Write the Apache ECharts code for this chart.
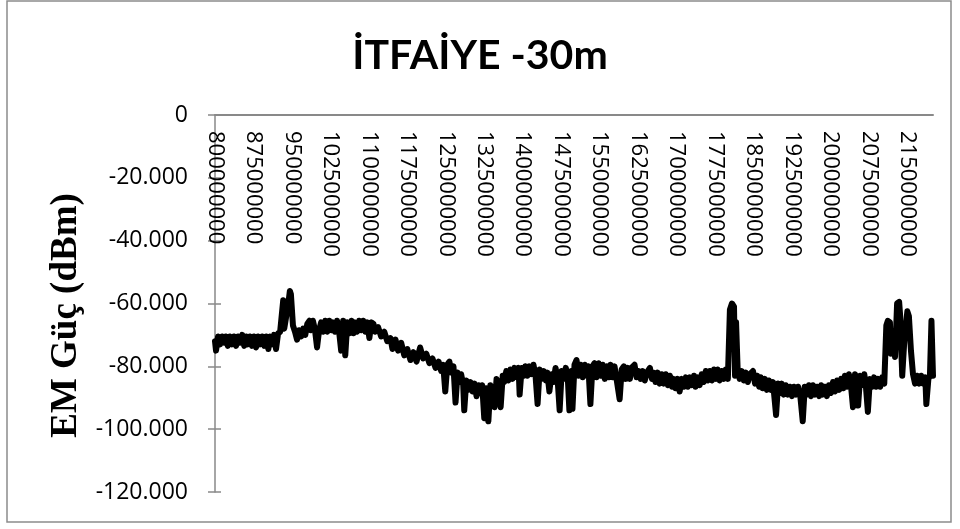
<!DOCTYPE html>
<html>
<head>
<meta charset="utf-8">
<title>İTFAİYE -30m</title>
<script src="https://cdn.jsdelivr.net/npm/echarts@6/dist/echarts.min.js"></script>
<style>
  html, body { margin: 0; padding: 0; background: #fff; }
  #chart { width: 960px; height: 529px; }
</style>
</head>
<body>
<div id="chart"></div>
<script>
// Measured spectrum: frequency in MHz and received power in dBm
const freqMHz = [
  800, 802, 806, 810, 814, 818, 821, 825, 829, 833, 837, 841, 845, 849, 853, 857, 861, 864, 868, 872,
  876, 880, 884, 888, 892, 896, 900, 904, 907, 911, 915, 919, 923, 927, 933, 935, 939, 943, 946, 948,
  952, 956, 960, 964, 968, 972, 976, 980, 984, 987, 991, 995, 999, 1003, 1007, 1011, 1015, 1019, 1023, 1027,
  1030, 1034, 1038, 1042, 1046, 1050, 1054, 1058, 1062, 1066, 1070, 1073, 1077, 1081, 1085, 1089, 1093, 1097, 1101, 1105,
  1109, 1112, 1118, 1124, 1130, 1136, 1142, 1146, 1152, 1157, 1163, 1169, 1175, 1181, 1187, 1193, 1196, 1200, 1206, 1212,
  1218, 1224, 1230, 1236, 1241, 1245, 1249, 1253, 1257, 1261, 1265, 1269, 1273, 1277, 1280, 1284, 1286, 1290, 1294, 1298,
  1302, 1306, 1310, 1314, 1318, 1321, 1325, 1329, 1333, 1337, 1341, 1345, 1349, 1353, 1357, 1361, 1364, 1368, 1372, 1376,
  1380, 1384, 1388, 1392, 1394, 1398, 1402, 1405, 1409, 1413, 1417, 1421, 1425, 1429, 1433, 1437, 1441, 1445, 1448, 1452,
  1456, 1460, 1464, 1468, 1472, 1476, 1480, 1484, 1488, 1491, 1495, 1497, 1501, 1505, 1509, 1513, 1517, 1521, 1525, 1528,
  1532, 1536, 1540, 1544, 1548, 1552, 1556, 1560, 1564, 1568, 1571, 1575, 1579, 1583, 1589, 1593, 1597, 1601, 1605, 1609,
  1612, 1618, 1622, 1626, 1630, 1634, 1638, 1642, 1648, 1652, 1655, 1659, 1663, 1667, 1671, 1675, 1679, 1683, 1687, 1691,
  1694, 1698, 1702, 1706, 1710, 1714, 1718, 1722, 1726, 1730, 1734, 1737, 1741, 1745, 1749, 1753, 1757, 1761, 1765, 1769,
  1773, 1777, 1780, 1784, 1788, 1792, 1796, 1800, 1804, 1808, 1812, 1814, 1816, 1819, 1823, 1827, 1831, 1835, 1839, 1843,
  1849, 1853, 1857, 1861, 1864, 1868, 1872, 1876, 1880, 1884, 1888, 1894, 1898, 1902, 1905, 1909, 1913, 1917, 1921, 1925,
  1929, 1933, 1937, 1941, 1946, 1950, 1954, 1958, 1962, 1966, 1970, 1974, 1978, 1982, 1985, 1989, 1993, 1997, 2001, 2005,
  2009, 2013, 2017, 2021, 2025, 2028, 2032, 2036, 2040, 2044, 2048, 2052, 2054, 2058, 2062, 2066, 2069, 2073, 2077, 2081,
  2085, 2089, 2093, 2097, 2101, 2105, 2109, 2112, 2116, 2118, 2122, 2126, 2130, 2134, 2136, 2140, 2144, 2150, 2153, 2157,
  2161, 2165, 2169, 2173, 2177, 2181, 2185, 2187, 2191, 2194, 2197, 2200
];

const powerDbm = [
  -72, -75, -70.5, -73, -70.5, -72.5, -70.5, -73.5, -70.5, -73, -70.5, -73.5, -70.5, -72.5, -70, -73.5, -70.5, -73, -70.5, -73.5,
  -70.5, -74, -70.5, -73, -70.5, -73.5, -70.5, -74.5, -70.5, -73, -70, -74.5, -69.5, -69, -59, -68, -64, -60, -56, -57,
  -67, -69, -71.5, -68.5, -70.5, -68, -70, -66.5, -65.5, -68.5, -65.5, -68.5, -74, -68.5, -66, -69, -65.5, -69, -65.5, -68.5,
  -66, -69, -65.5, -69, -75, -65.5, -76.5, -66, -69.5, -65.5, -69.5, -66, -69, -65.5, -68.5, -65.5, -69, -66, -71, -66,
  -66.5, -69, -67.5, -70.5, -69, -72, -71, -74.5, -71.5, -75, -72.5, -76.5, -74.5, -78, -75.5, -78.5, -76.5, -74, -77.5, -76,
  -79, -77.5, -80.5, -78.5, -81.5, -79.5, -88, -79.5, -78.5, -82, -80, -91.5, -82, -85, -82.5, -86, -94, -84.5, -87.5, -85,
  -88, -85.5, -89.5, -86, -88.5, -86, -96.5, -87, -97.5, -86, -88.5, -93, -84, -86.5, -93, -83, -85, -81.5, -84.5, -81,
  -84, -80.5, -83.5, -80.5, -89, -80.5, -83, -80, -83, -80, -82.5, -79.5, -83, -92, -81, -84, -81.5, -84.5, -82, -88,
  -82.5, -85, -80.5, -84, -94, -81.5, -84, -80.5, -84, -94, -81.5, -93.5, -79.5, -78, -83, -79.5, -83.5, -79.5, -83, -80,
  -92, -80, -79, -83.5, -79, -83, -79.5, -84, -80, -83.5, -79.5, -83.5, -80, -84, -90.5, -81, -80, -84, -80.5, -84,
  -80.5, -79.5, -83.5, -81.5, -84, -81.5, -84.5, -82, -80.5, -84, -82, -85, -82, -85.5, -82.5, -85.5, -82.5, -86, -83, -86.5,
  -84, -87, -84, -88, -84, -86.5, -83.5, -86.5, -83.5, -86, -83, -86.5, -83.5, -86, -82.5, -85, -81.5, -84.5, -81.5, -84.5,
  -81, -84, -81, -84.5, -81.5, -84, -81, -84, -62, -60, -61, -83, -66, -80.5, -84, -81.5, -84.5, -82, -85, -82.5,
  -81.5, -85.5, -83, -86.5, -83.5, -87, -84, -87.5, -84.5, -87.5, -85, -95.5, -85.5, -88.5, -85.5, -89, -86, -89, -86.5, -89.5,
  -86.5, -89, -86.5, -89, -97.5, -86.5, -89, -86, -89.5, -86, -89, -86.5, -89.5, -86, -89, -86.5, -89.5, -86, -88.5, -85,
  -88, -84.5, -87.5, -84, -87, -83, -86.5, -82.5, -86, -93, -82.5, -85.5, -92.5, -83, -86, -82.5, -86, -94.5, -84, -86.5,
  -83.5, -86.5, -84, -86.5, -83.5, -85.5, -67, -65.5, -66, -76, -70, -77, -60, -59.5, -64, -83, -72, -62.5, -64, -75,
  -82.5, -85.5, -83, -85.5, -83, -85.5, -83.5, -92, -84, -83, -65.5, -83
];

// Y-axis tick values (dBm)
const yTicks = [0, -20, -40, -60, -80, -100, -120];

const seriesData = freqMHz.map((f, i) => [f * 1e6, powerDbm[i]]);

const chart = echarts.init(document.getElementById('chart'), null, { renderer: 'canvas' });

const axisGray = '#898989';
const labelFont = '"Open Sans", "Noto Sans", sans-serif';

chart.setOption({
  animation: false,
  backgroundColor: '#ffffff',
  title: {
    text: 'İTFAİYE -30m',
    left: 'center',
    top: 30,
    textStyle: {
      fontFamily: 'Lato, "Open Sans", sans-serif',
      fontWeight: 'bold',
      fontSize: 41,
      color: '#000'
    }
  },
  graphic: [{
    type: 'rect',
    shape: { x: 7, y: 1, width: 944, height: 521 },
    style: { fill: 'none', stroke: '#8c8c8c', lineWidth: 1.5 },
    silent: true
  }],
  grid: { left: 215, top: 115, right: 27, bottom: 37, containLabel: false },
  xAxis: {
    type: 'value',
    position: 'top',
    min: 800e6,
    max: 2200e6,
    interval: 75e6,
    axisLine: { show: true, onZero: false, lineStyle: { color: axisGray, width: 2 } },
    axisTick: { show: false },
    splitLine: { show: false },
    axisLabel: {
      inside: true,
      rotate: 90,
      margin: 16,
      showMaxLabel: false,
      fontFamily: labelFont,
      fontSize: 22,
      color: '#000',
      formatter: v => String(Math.round(v))
    }
  },
  yAxis: [{
    type: 'value',
    min: yTicks[yTicks.length - 1],
    max: yTicks[0],
    interval: 20,
    name: 'EM Güç (dBm)',
    nameLocation: 'middle',
    nameRotate: 90,
    nameGap: 121,
    nameTextStyle: {
      fontFamily: '"Liberation Serif", "DejaVu Serif", serif',
      fontWeight: 'bold',
      fontSize: 37,
      color: '#000',
      padding: [0, 24, 0, 0]
    },
    axisLine: { show: true, lineStyle: { color: axisGray, width: 1.5 } },
    axisTick: { show: true, length: 7, lineStyle: { color: axisGray, width: 1.5 } },
    splitLine: { show: false },
    axisLabel: {
      margin: 27,
      fontFamily: labelFont,
      fontSize: 23,
      color: '#000',
      formatter: v => (v === 0 ? '0' : v.toFixed(3))
    }
  }, {
    // inner half of the cross tick marks
    type: 'value',
    position: 'left',
    min: yTicks[yTicks.length - 1],
    max: yTicks[0],
    interval: 20,
    axisLine: { show: false },
    axisTick: { show: true, inside: true, length: 6, lineStyle: { color: axisGray, width: 1.5 } },
    axisLabel: { show: false },
    splitLine: { show: false }
  }],
  series: [{
    type: 'line',
    data: seriesData,
    showSymbol: false,
    symbol: 'none',
    sampling: 'none',
    lineStyle: { color: '#000', width: 6, cap: 'round', join: 'round' },
    z: 1
  }]
});
</script>
</body>
</html>
